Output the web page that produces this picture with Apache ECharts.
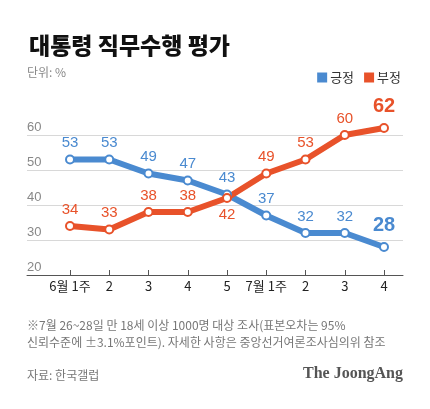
<!DOCTYPE html>
<html><head><meta charset="utf-8">
<script src="https://cdn.jsdelivr.net/npm/echarts@6/dist/echarts.min.js"></script>
<style>html,body{margin:0;padding:0;background:#fff}#c{width:430px;height:409px}</style>
</head><body><div id="c"></div>
<script>
const categories = ['6월 1주','2','3','4','5','7월 1주','2','3','4'];
const positive = [53,53,49,47,43,37,32,32,28];
const negative = [34,33,38,38,42,49,53,60,62];
const yTicks = [20,30,40,50,60];

const BLUE = '#4a8ad0', RED = '#e8522a';
const FONT = '"Liberation Sans", "Noto Sans CJK KR", sans-serif';
const KFONT = '"Noto Sans CJK KR", sans-serif';

function mk(vals, below) {
  return vals.map((v, i) => {
    const last = i === vals.length - 1;
    const item = { value: v };
    const lab = {};
    if (last) { lab.fontSize = 20; lab.fontWeight = 'bold'; lab.distance = 7; }
    if (below.includes(i)) { lab.position = 'bottom'; }
    item.label = lab;
    return item;
  });
}

const chart = echarts.init(document.getElementById('c'));
chart.setOption({
  animation: false,
  title: {
    text: '대통령 직무수행 평가', left: 24, top: 29,
    textStyle: { fontFamily: KFONT, fontSize: 23, fontWeight: 900, color: '#111' }
  },
  legend: {
    right: 24, top: 66, itemWidth: 10, itemHeight: 10, itemGap: 10,
    icon: 'rect',
    textStyle: { fontFamily: KFONT, fontSize: 13, color: '#333', padding: [0,0,0,-2] },
    data: [
      { name: '긍정', itemStyle: { color: BLUE, borderWidth: 0 } },
      { name: '부정', itemStyle: { color: RED, borderWidth: 0 } }
    ]
  },
  graphic: [
    { type: 'text', left: 27, top: 66, style: { text: '단위: %', font: '12px ' + KFONT, fill: '#888' } },
    { type: 'text', left: 27, top: 319, style: { text: '※7월 26~28일 만 18세 이상 1000명 대상 조사(표본오차는 95%', font: '12px ' + KFONT, fill: '#777' } },
    { type: 'text', left: 27, top: 336, style: { text: '신뢰수준에 ±3.1%포인트). 자세한 사항은 중앙선거여론조사심의위 참조', font: '12px ' + KFONT, fill: '#777' } },
    { type: 'text', left: 27, top: 369, style: { text: '자료: 한국갤럽', font: '12px ' + KFONT, fill: '#777' } },
    { type: 'text', right: 27, top: 366, style: { text: 'The JoongAng', font: 'bold 16px "Liberation Serif", serif', fill: '#555' } }
  ],
  grid: [
    { left: 27, right: 27, top: 135, bottom: 134 },
    { left: 70, right: 46, top: 135, bottom: 134 }
  ],
  xAxis: [
    { gridIndex: 0, type: 'value', min: 0, max: 1, axisLabel: { show: false }, axisTick: { show: false }, splitLine: { show: false },
      axisLine: { show: true, lineStyle: { color: '#555', width: 1 } } },
    { gridIndex: 1, type: 'category', data: categories, boundaryGap: false,
      axisLine: { show: false },
      axisTick: { show: true, inside: true, length: 5, interval: 0, lineStyle: { color: '#555' } },
      axisLabel: { interval: 0, color: '#222', fontSize: 13, fontFamily: KFONT, margin: 5 } }
  ],
  yAxis: [
    { gridIndex: 0, type: 'value', min: 20, max: 60, interval: 10,
      axisLine: { show: false }, axisTick: { show: false },
      splitLine: { lineStyle: { color: '#d8d8d8', width: 1 } },
      axisLabel: { inside: true, verticalAlign: 'bottom', margin: 0, padding: [0,0,1,0], color: '#888', fontSize: 13, fontFamily: FONT,
        formatter: v => yTicks.includes(v) ? String(v) : '' } },
    { gridIndex: 1, type: 'value', min: 20, max: 60, show: false }
  ],
  series: [
    { name: '긍정', type: 'line', xAxisIndex: 1, yAxisIndex: 1, data: mk(positive, []),
      color: BLUE, clip: false,
      lineStyle: { width: 6, color: BLUE, join: 'round', cap: 'round' },
      symbol: 'circle', symbolSize: 8, itemStyle: { color: '#fff', borderColor: BLUE, borderWidth: 2 },
      label: { show: true, position: 'top', distance: 4, color: BLUE, fontSize: 15, fontFamily: FONT } },
    { name: '부정', type: 'line', xAxisIndex: 1, yAxisIndex: 1, data: mk(negative, [4]),
      color: RED, clip: false,
      lineStyle: { width: 6, color: RED, join: 'round', cap: 'round' },
      symbol: 'circle', symbolSize: 8, itemStyle: { color: '#fff', borderColor: RED, borderWidth: 2 },
      label: { show: true, position: 'top', distance: 4, color: RED, fontSize: 15, fontFamily: FONT } }
  ]
});
</script></body></html>
